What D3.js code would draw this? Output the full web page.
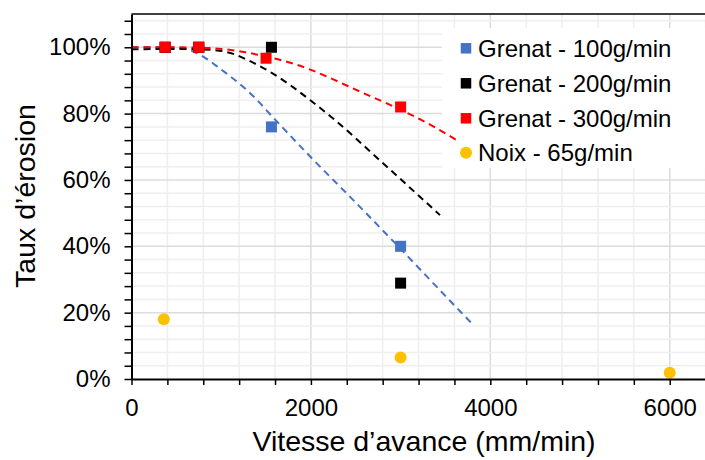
<!DOCTYPE html>
<html>
<head>
<meta charset="utf-8">
<script src="https://cdn.jsdelivr.net/npm/d3@7"></script>
<style>
  body { margin: 0; background: #fff; }
  svg { display: block; }
</style>
</head>
<body>
<div id="chart"></div>
<script>
// =============================================================================
// Data
// =============================================================================
const seriesNames = ['Grenat - 100g/min', 'Grenat - 200g/min', 'Grenat - 300g/min', 'Noix - 65g/min'];

// measured points (x = feed speed in mm/min, y = erosion rate)
const grenat100X = [375, 750, 1560, 3000];
const grenat100Y = [1.0, 1.0, 0.76, 0.40];
const grenat200X = [375, 750, 1560, 3000];
const grenat200Y = [1.0, 1.0, 1.0, 0.289];
const grenat300X = [375, 750, 1500, 3000];
const grenat300Y = [1.0, 1.0, 0.967, 0.82];
const noixX = [360, 3000, 6000];
const noixY = [0.18, 0.065, 0.019];

// trend curves, sampled along the dashed lines
const trend100X = [0, 400, 600, 760, 990, 1360, 1580, 2030, 2470, 2990, 3660, 3800];
const trend100Y = [1.0, 1.0, 0.995, 0.978, 0.935, 0.852, 0.788, 0.66, 0.54, 0.395, 0.205, 0.166];
const trend200X = [0, 500, 900, 1135, 1284, 1581, 1990, 2213, 2826, 3439];
const trend200Y = [0.994, 0.995, 0.992, 0.98, 0.963, 0.92, 0.841, 0.793, 0.645, 0.494];
const trend300X = [0, 400, 750, 1000, 1250, 1500, 1750, 2000, 2250, 2584, 2957, 3328, 3662];
const trend300Y = [1.0, 1.0, 0.999, 0.995, 0.986, 0.972, 0.955, 0.932, 0.903, 0.862, 0.817, 0.767, 0.714];

// axis ticks
const xTickLabels = [0, 2000, 4000, 6000];
const yTickLabels = [0, 0.2, 0.4, 0.6, 0.8, 1.0];
const xMinorStep = 400;
const yMinorStep = 0.04;

// =============================================================================
// Visual configuration
// =============================================================================
const FONT = '"Liberation Sans", Arial, sans-serif';
const COLORS = ['#4472C4', '#000000', '#FF0000', '#FFC000'];
const SQUARE = 11;
const CIRCLE_R = 6;
const DASH = '7,5';

const width = 705, height = 460;

const svg = d3.select('#chart')
    .append('svg')
    .attr('width', width)
    .attr('height', height)
    .style('font-family', FONT);

svg.append('rect').attr('width', width).attr('height', height).attr('fill', '#fff');

const x = d3.scaleLinear().domain([0, 6400]).range([131.5, 705.6]);
const y = d3.scaleLinear().domain([0, 1.1]).range([379, 14.1]);

const xMinor = d3.range(0, 6400 + 1, xMinorStep);
const yMinor = d3.range(0, 1.1, yMinorStep).map(v => +v.toFixed(2));
const isMajorX = v => xTickLabels.includes(v);
const isMajorY = v => yTickLabels.some(t => Math.abs(t - v) < 1e-6);

// Gridlines
const grid = svg.append('g');
grid.selectAll('.gx')
    .data(xMinor.filter(v => v > 0))
    .enter().append('line')
    .attr('x1', d => x(d)).attr('x2', d => x(d))
    .attr('y1', y(0)).attr('y2', y(1.1))
    .attr('stroke', d => isMajorX(d) ? '#dcdcdc' : '#efefef')
    .attr('stroke-width', 1.5);
grid.selectAll('.gy')
    .data(yMinor.filter(v => v > 0))
    .enter().append('line')
    .attr('x1', x(0)).attr('x2', x(6400))
    .attr('y1', d => y(d)).attr('y2', d => y(d))
    .attr('stroke', d => isMajorY(d) ? '#dcdcdc' : '#efefef')
    .attr('stroke-width', 1.5);

// Legend background (lines are drawn over it, as in the reference)
svg.append('rect')
    .attr('x', 442).attr('y', 28)
    .attr('width', 263).attr('height', 140)
    .attr('fill', '#fff');

// Trend lines
const line = d3.line()
    .x(d => x(d[0]))
    .y(d => y(d[1]))
    .curve(d3.curveMonotoneX);

const trends = [
    [trend100X, trend100Y, COLORS[0]],
    [trend200X, trend200Y, COLORS[1]],
    [trend300X, trend300Y, COLORS[2]]
];
trends.forEach(([xs, ys, color]) => {
    svg.append('path')
        .datum(xs.map((v, i) => [v, ys[i]]))
        .attr('d', line)
        .attr('fill', 'none')
        .attr('stroke', color)
        .attr('stroke-width', 2)
        .attr('stroke-dasharray', DASH);
});

// Points
const squareSeries = [
    [grenat100X, grenat100Y, COLORS[0]],
    [grenat200X, grenat200Y, COLORS[1]],
    [grenat300X, grenat300Y, COLORS[2]]
];
squareSeries.forEach(([xs, ys, color]) => {
    svg.append('g')
        .selectAll('rect')
        .data(xs.map((v, i) => [v, ys[i]]))
        .enter().append('rect')
        .attr('x', d => x(d[0]) - SQUARE / 2)
        .attr('y', d => y(d[1]) - SQUARE / 2)
        .attr('width', SQUARE).attr('height', SQUARE)
        .attr('fill', color);
});
svg.append('g')
    .selectAll('circle')
    .data(noixX.map((v, i) => [v, noixY[i]]))
    .enter().append('circle')
    .attr('cx', d => x(d[0]))
    .attr('cy', d => y(d[1]))
    .attr('r', CIRCLE_R)
    .attr('fill', COLORS[3]);

// Axes
const xAxis = d3.axisBottom(x)
    .tickValues(xMinor)
    .tickSize(6)
    .tickSizeOuter(0)
    .tickPadding(14)
    .tickFormat(d => isMajorX(d) ? d : '');
const yAxis = d3.axisLeft(y)
    .tickValues(yMinor)
    .tickSize(7)
    .tickSizeOuter(0)
    .tickPadding(14)
    .tickFormat(d => isMajorY(d) ? Math.round(d * 100) + '%' : '');

const gx = svg.append('g').attr('transform', `translate(0,${y(0)})`).call(xAxis);
const gy = svg.append('g').attr('transform', `translate(${x(0)},0)`).call(yAxis);
[gx, gy].forEach(g => {
    g.select('.domain').attr('stroke', '#000').attr('stroke-width', 2);
    g.selectAll('.tick line').attr('stroke', '#000').attr('stroke-width', 1.5);
    g.selectAll('.tick text')
        .attr('fill', '#000')
        .style('font-family', FONT)
        .style('font-size', '24px');
});

// Top border
svg.append('line')
    .attr('x1', x(0)).attr('x2', width)
    .attr('y1', y(1.1)).attr('y2', y(1.1))
    .attr('stroke', '#000').attr('stroke-width', 1.5);

// Axis titles
svg.append('text')
    .attr('x', 424).attr('y', 451)
    .attr('text-anchor', 'middle')
    .style('font-size', '28.5px')
    .attr('fill', '#000')
    .text('Vitesse d’avance (mm/min)');

svg.append('text')
    .attr('transform', 'translate(35,196) rotate(-90)')
    .attr('text-anchor', 'middle')
    .style('font-size', '28.5px')
    .attr('fill', '#000')
    .text('Taux d’érosion');

// Legend entries
const legendRows = [48.3, 83.3, 118.3, 152.7];
const legend = svg.append('g');
seriesNames.forEach((name, i) => {
    const ly = legendRows[i];
    if (i < 3) {
        legend.append('rect')
            .attr('x', 466 - 5.25).attr('y', ly - 5.25)
            .attr('width', 10.5).attr('height', 10.5)
            .attr('fill', COLORS[i]);
    } else {
        legend.append('circle')
            .attr('cx', 466).attr('cy', ly)
            .attr('r', 6)
            .attr('fill', COLORS[i]);
    }
    legend.append('text')
        .attr('x', 478).attr('y', ly)
        .attr('dy', '0.35em')
        .style('font-size', '24px')
        .attr('fill', '#000')
        .text(name);
});
</script>
</body>
</html>
